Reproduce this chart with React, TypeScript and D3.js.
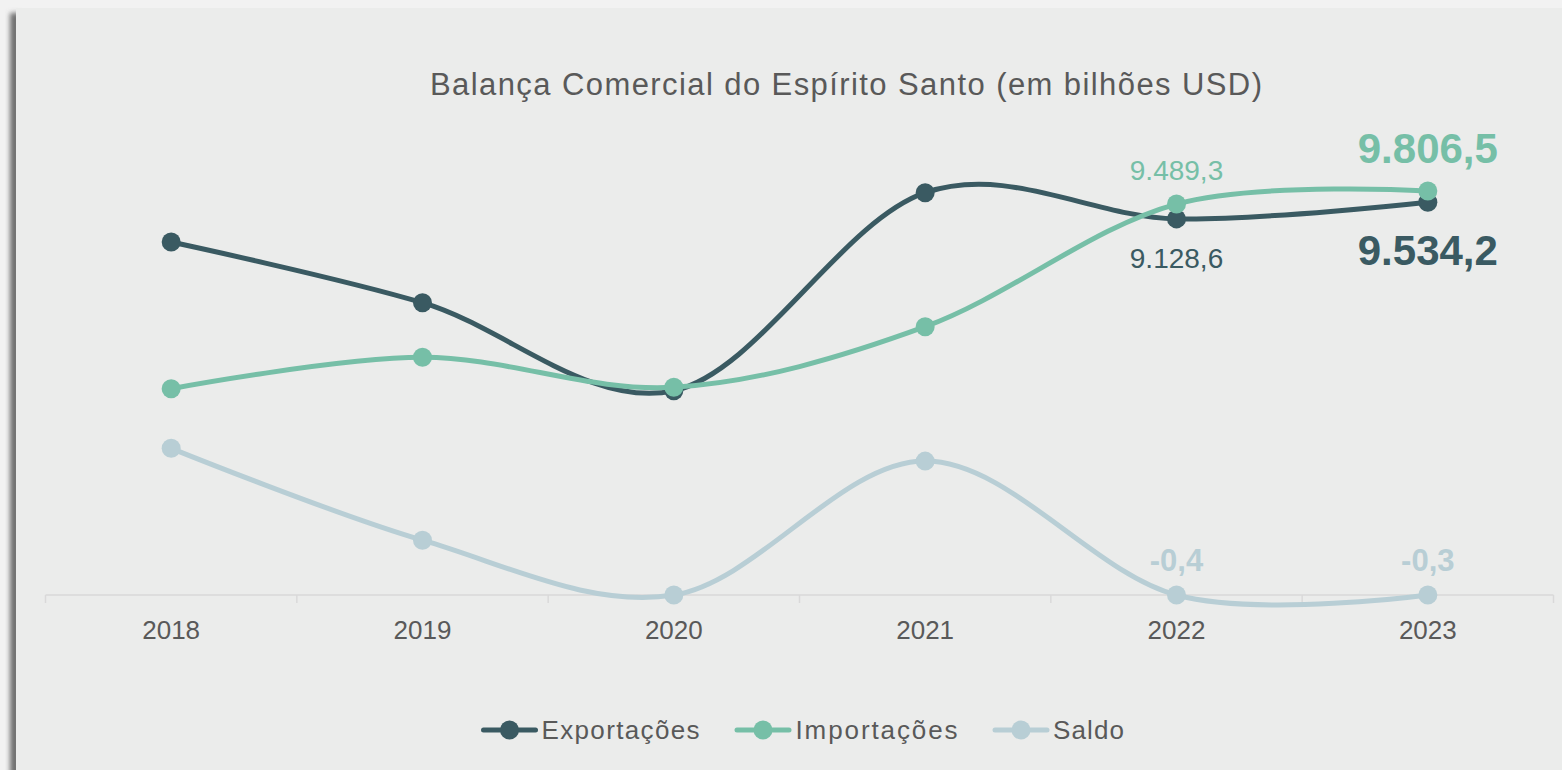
import React from "react";
import * as d3 from "d3";

const YEARS = ["2018", "2019", "2020", "2021", "2022", "2023"];
const EXPORTACOES = [8567, 7094, 4958, 9764, 9128.6, 9534.2];
const IMPORTACOES = [5007, 5769, 5041, 6512, 9489.3, 9806.5];
const SALDO = [3.56, 1.33, -0.08, 3.25, -0.36, -0.27];
const SERIES_NAMES = ["Exportações", "Importações", "Saldo"];
const TITLE = "Balança Comercial do Espírito Santo (em bilhões USD)";

const COLORS = ["#3a5a62", "#76bfa7", "#b8ced5"];
const FONT = "'Liberation Sans', Arial, sans-serif";
const TEXT = "#595959";

const W = 1562;
const H = 770;
const AXIS_Y = 595;
const TOP_Y = 183;

const locale = d3.formatLocale({
  decimal: ",",
  thousands: ".",
  grouping: [3],
  currency: ["", ""],
  minus: "-",
});
const fmt = locale.format(",.1f");

export default function App() {
  const x = d3.scalePoint<string>().domain(YEARS).range([45.5, 1553.5]).padding(0.5);
  const band = d3.scaleBand<string>().domain(YEARS).range([45.5, 1553.5]);
  const yPrim = d3.scaleLinear().domain([0, 10000]).range([AXIS_Y, TOP_Y]);
  const ySec = d3.scaleLinear().domain([0, 10]).range([AXIS_Y, TOP_Y]).clamp(true);

  const series = [
    { name: SERIES_NAMES[0], values: EXPORTACOES, y: yPrim, color: COLORS[0] },
    { name: SERIES_NAMES[1], values: IMPORTACOES, y: yPrim, color: COLORS[1] },
    { name: SERIES_NAMES[2], values: SALDO, y: ySec, color: COLORS[2] },
  ];

  const lineGen = (s: typeof series[0]) =>
    d3
      .line<number>()
      .x((_, i) => x(YEARS[i]) as number)
      .y((v) => s.y(v))
      .curve(d3.curveCardinal.tension(0))(s.values) as string;

  const labels = [
    { s: 0, i: 4, dy: 49, size: 28, bold: false },
    { s: 1, i: 4, dy: -24, size: 28, bold: false },
    { s: 0, i: 5, dy: 63, size: 42, bold: true },
    { s: 1, i: 5, dy: -28, size: 42, bold: true },
    { s: 2, i: 4, dy: -24, size: 31, bold: true },
    { s: 2, i: 5, dy: -24, size: 31, bold: true },
  ];

  const bounds = YEARS.map((yr) => band(yr) as number).concat([band.range()[1]]);

  const legendItems = [
    { cx: 509.5, tx: 541.5, tw: 158 },
    { cx: 763, tx: 795.5, tw: 162 },
    { cx: 1021, tx: 1053, tw: 71 },
  ];

  return (
    <svg
      width={W}
      height={H}
      style={{ position: "absolute", left: 0, top: 0, display: "block" }}
    >
      <defs>
        <filter id="sh" x="-50%" y="-5%" width="200%" height="110%">
          <feGaussianBlur stdDeviation="2.5" />
        </filter>
      </defs>
      <rect x={0} y={0} width={W} height={H} fill="#f2f2f2" />
      <rect x={10} y={13} width={10} height={H} fill="#6f6f6f" filter="url(#sh)" />
      <rect x={16} y={8} width={W - 16} height={H - 8} fill="#ebeceb" />

      <text
        x={846}
        y={95}
        textAnchor="middle"
        fontFamily={FONT}
        fontSize={31}
        fill={TEXT}
        textLength={832}
        lengthAdjust="spacing"
      >
        {TITLE}
      </text>

      <line x1={bounds[0]} x2={bounds[bounds.length - 1]} y1={AXIS_Y} y2={AXIS_Y} stroke="#d9d9d9" strokeWidth={1.5} />
      {bounds.map((b, i) => (
        <line key={i} x1={b} x2={b} y1={AXIS_Y} y2={AXIS_Y + 8} stroke="#d9d9d9" strokeWidth={1.5} />
      ))}
      {YEARS.map((yr) => (
        <text
          key={yr}
          x={x(yr)}
          y={639}
          textAnchor="middle"
          fontFamily={FONT}
          fontSize={26}
          fill={TEXT}
        >
          {yr}
        </text>
      ))}

      {series.map((s, si) => (
        <g key={si}>
          <path d={lineGen(s)} fill="none" stroke={s.color} strokeWidth={5} strokeLinecap="round" />
          {s.values.map((v, i) => (
            <circle key={i} cx={x(YEARS[i])} cy={s.y(v)} r={9.5} fill={s.color} />
          ))}
        </g>
      ))}

      {labels.map((l, k) => {
        const s = series[l.s];
        const v = s.values[l.i];
        return (
          <text
            key={k}
            x={x(YEARS[l.i])}
            y={s.y(v) + l.dy}
            textAnchor="middle"
            fontFamily={FONT}
            fontSize={l.size}
            fontWeight={l.bold ? "bold" : "normal"}
            fill={s.color}
          >
            {fmt(v)}
          </text>
        );
      })}

      {legendItems.map((it, i) => (
        <g key={i}>
          <line x1={it.cx - 26} x2={it.cx + 26} y1={730} y2={730} stroke={COLORS[i]} strokeWidth={5} strokeLinecap="round" />
          <circle cx={it.cx} cy={730} r={9.5} fill={COLORS[i]} />
          <text
            x={it.tx}
            y={739}
            fontFamily={FONT}
            fontSize={26}
            fill={TEXT}
            textLength={it.tw}
            lengthAdjust="spacing"
          >
            {SERIES_NAMES[i]}
          </text>
        </g>
      ))}
    </svg>
  );
}
